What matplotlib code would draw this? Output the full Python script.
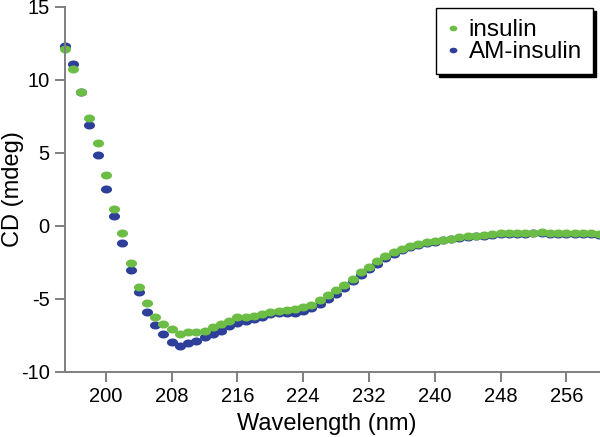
import numpy as np
import matplotlib
matplotlib.use("Agg")
import matplotlib.pyplot as plt

plt.rcParams['font.family'] = ['Liberation Sans', 'DejaVu Sans']
plt.rcParams['axes.unicode_minus'] = False

# wavelength grid, 1 nm steps
wavelength = list(range(195, 261))

# CD values (mdeg)
insulin = [12.12, 10.75, 9.20, 7.37, 5.66, 3.51, 1.16, -0.51, -2.51, -4.16,
           -5.27, -6.21, -6.74, -7.05, -7.40, -7.26, -7.26, -7.17, -6.90, -6.71,
           -6.51, -6.26, -6.26, -6.16, -6.03, -5.89, -5.85, -5.73, -5.68, -5.58,
           -5.39, -5.07, -4.74, -4.38, -4.02, -3.63, -3.18, -2.79, -2.38, -2.07,
           -1.79, -1.55, -1.36, -1.24, -1.12, -1.05, -0.94, -0.87, -0.78, -0.71,
           -0.66, -0.62, -0.55, -0.51, -0.51, -0.48, -0.48, -0.46, -0.44, -0.48,
           -0.51, -0.51, -0.51, -0.51, -0.51, -0.58]

am_insulin = [12.30, 11.07, 9.15, 6.92, 4.88, 2.55, 0.71, -1.16, -3.01, -4.55,
              -5.92, -6.76, -7.40, -7.92, -8.20, -8.04, -7.86, -7.63, -7.40, -7.22,
              -6.85, -6.62, -6.48, -6.39, -6.26, -6.03, -5.99, -5.94, -5.94, -5.80,
              -5.62, -5.34, -5.03, -4.66, -4.25, -3.75, -3.34, -2.95, -2.60, -2.22,
              -1.92, -1.66, -1.45, -1.32, -1.18, -1.11, -0.99, -0.92, -0.83, -0.76,
              -0.71, -0.67, -0.60, -0.57, -0.56, -0.54, -0.53, -0.51, -0.50, -0.53,
              -0.56, -0.56, -0.56, -0.56, -0.56, -0.64]

xticks = [200, 208, 216, 224, 232, 240, 248, 256]
yticks = [-10, -5, 0, 5, 10, 15]

green = '#6cbd45'
blue = '#2d3f98'
gray = '#7f7f7f'

# slightly flattened dot like the original
t = np.linspace(0, 2 * np.pi, 40)
ellipse = np.column_stack([np.cos(t), 0.72 * np.sin(t)])

fig = plt.figure(figsize=(6, 4.37), dpi=100)
ax = fig.add_axes([0.108, 0.149, 0.892, 0.835])

ax.plot(wavelength, am_insulin, linestyle='none', marker=ellipse, markersize=8,
        color=blue, markeredgewidth=0, label='AM-insulin', clip_on=False)
ax.plot(wavelength, insulin, linestyle='none', marker=ellipse, markersize=8,
        color=green, markeredgewidth=0, label='insulin', clip_on=False)

ax.set_xlim(195, 260.1)
ax.set_ylim(-10, 15)
ax.set_xticks(xticks)
ax.set_yticks(yticks)
ax.set_xlabel('Wavelength (nm)', fontsize=17)
ax.set_ylabel('CD (mdeg)', fontsize=17, va='center')
ax.xaxis.set_label_coords(0.49, -0.112)
ax.yaxis.set_label_coords(-0.097, 0.5)

for side in ['top', 'right']:
    ax.spines[side].set_visible(False)
for side in ['left', 'bottom']:
    ax.spines[side].set_color(gray)
    ax.spines[side].set_linewidth(1.4)
ax.tick_params(direction='out', length=7, width=1.4, color=gray,
               labelsize=14.5, pad=4)

handles, labels = ax.get_legend_handles_labels()
leg = ax.legend(handles[::-1], labels[::-1], loc='upper right',
                bbox_to_anchor=(0.987, 0.997), borderaxespad=0,
                fontsize=17.5, frameon=True, fancybox=False,
                shadow={'color': 'black', 'alpha': 1},
                handlelength=0.5, handletextpad=0.4, markerscale=0.7,
                labelspacing=0.0, borderpad=0.45)
leg.get_frame().set_edgecolor('black')
leg.get_frame().set_linewidth(1.0)

fig.savefig('out.png', dpi=100)
